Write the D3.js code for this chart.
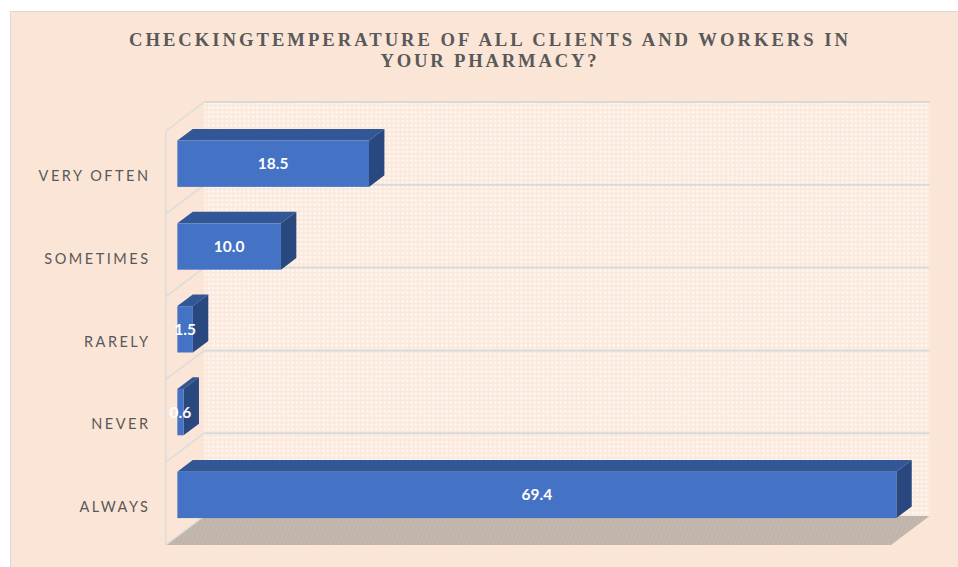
<!DOCTYPE html>
<html>
<head>
<meta charset="utf-8">
<script src="https://cdn.jsdelivr.net/npm/d3@7"></script>
<style>
  body { margin: 0; background: #ffffff; }
  svg { display: block; }
</style>
</head>
<body>
<svg></svg>
<script>
let categories = ["VERY OFTEN", "SOMETIMES", "RARELY", "NEVER", "ALWAYS"]
let values = [18.5, 10.0, 1.5, 0.6, 69.4]
let titleLines = ["CHECKINGTEMPERATURE OF ALL CLIENTS AND WORKERS IN", "YOUR PHARMACY?"]

var svg = d3.select("svg")
    .attr("width", 958)
    .attr("height", 567)

// 3d depth: back wall -> front edge of floor
var depth = {dx: -38.5, dy: 29}
var barFront = 0.70, barBack = 0.30

var wall = {left: 204.3, right: 929.5, top: 102, bottom: 516}

var defs = svg.append("defs")

var wallPat = defs.append("pattern")
    .attr("id", "wallPat")
    .attr("width", 4.4).attr("height", 4.4)
    .attr("patternUnits", "userSpaceOnUse")
wallPat.append("rect").attr("width", 4.4).attr("height", 4.4).attr("fill", "#fbe7da")
wallPat.append("circle").attr("cx", 2.2).attr("cy", 2.2).attr("r", 1.6).attr("fill", "#fff6f0")
wallPat.append("circle").attr("cx", 0).attr("cy", 0).attr("r", 0.8).attr("fill", "#fff1e9")
wallPat.append("circle").attr("cx", 4.4).attr("cy", 4.4).attr("r", 0.8).attr("fill", "#fff1e9")

var floorPat = defs.append("pattern")
    .attr("id", "floorPat")
    .attr("width", 4).attr("height", 4)
    .attr("patternUnits", "userSpaceOnUse")
    .attr("patternTransform", "rotate(20)")
floorPat.append("rect").attr("width", 4).attr("height", 4).attr("fill", "#c0b4ab")
floorPat.append("line").attr("x1", 0).attr("y1", 0).attr("x2", 0).attr("y2", 4)
    .attr("stroke", "#cbc0b8").attr("stroke-width", 1)

// chart area
svg.append("rect")
    .attr("x", 10.5).attr("y", 11.5)
    .attr("width", 980).attr("height", 600)
    .attr("fill", "#fbe5d6")
    .attr("stroke", "#d9d9d9")

let scX = d3.scaleLinear()
    .domain([0, 70])
    .range([wall.left, wall.right])

let scY = d3.scaleBand()
    .domain(categories)
    .range([wall.top, wall.bottom])

let scBar = d3.scaleBand()
    .domain(categories)
    .range([wall.top, wall.bottom])
    .paddingInner(0.44)
    .paddingOuter(0.22)

// project a back-plane point forward by depth fraction f
let px = (x, f) => x + depth.dx * f
let py = (y, f) => y + depth.dy * f
let poly = pts => "M" + pts.map(p => p.join(",")).join("L") + "Z"

var plot = svg.append("g")

// back wall
plot.append("rect")
    .attr("x", wall.left).attr("y", wall.top)
    .attr("width", wall.right - wall.left)
    .attr("height", wall.bottom - wall.top)
    .attr("fill", "url(#wallPat)")

// floor
plot.append("path")
    .attr("d", poly([
        [wall.left, wall.bottom], [wall.right, wall.bottom],
        [px(wall.right, 1), py(wall.bottom, 1)], [px(wall.left, 1), py(wall.bottom, 1)]
    ]))
    .attr("fill", "url(#floorPat)")

// gridlines on back wall + side wall
let gridY = categories.map(c => scY(c)).concat([wall.bottom])
plot.selectAll(".grid")
    .data(gridY.slice(0, -1)).enter().append("line")
    .attr("class", "grid")
    .attr("x1", wall.left).attr("x2", wall.right)
    .attr("y1", d => d).attr("y2", d => d)
    .attr("stroke", "#d9d9d9").attr("stroke-width", 2)

plot.selectAll(".side")
    .data(gridY).enter().append("line")
    .attr("class", "side")
    .attr("x1", wall.left).attr("y1", d => d)
    .attr("x2", px(wall.left, 1)).attr("y2", d => py(d, 1))
    .attr("stroke", "#dcdcdc").attr("stroke-width", 1.5)

plot.append("line")
    .attr("x1", px(wall.left, 1)).attr("x2", px(wall.left, 1))
    .attr("y1", py(wall.top, 1)).attr("y2", py(wall.bottom, 1))
    .attr("stroke", "#dcdcdc").attr("stroke-width", 1.5)

// bars
let bars = plot.selectAll(".bar")
    .data(values).enter().append("g")
    .attr("class", "bar")

bars.append("path") // top
    .attr("d", (d, i) => {
        let y = scBar(categories[i])
        return poly([
            [px(scX(0), barBack), py(y, barBack)], [px(scX(d), barBack), py(y, barBack)],
            [px(scX(d), barFront), py(y, barFront)], [px(scX(0), barFront), py(y, barFront)]
        ])
    })
    .attr("fill", "#325796")

bars.append("path") // right side
    .attr("d", (d, i) => {
        let y0 = scBar(categories[i]), y1 = y0 + scBar.bandwidth()
        return poly([
            [px(scX(d), barBack), py(y0, barBack)], [px(scX(d), barBack), py(y1, barBack)],
            [px(scX(d), barFront), py(y1, barFront)], [px(scX(d), barFront), py(y0, barFront)]
        ])
    })
    .attr("fill", "#29487f")

bars.append("rect") // front
    .attr("x", px(scX(0), barFront))
    .attr("y", (d, i) => py(scBar(categories[i]), barFront))
    .attr("width", d => scX(d) - scX(0))
    .attr("height", scBar.bandwidth())
    .attr("fill", "#4472c4")

bars.append("text")
    .attr("x", d => px(scX(0), barFront) + (scX(d) - scX(0)) / 2)
    .attr("y", (d, i) => py(scBar(categories[i]) + scBar.bandwidth() / 2, barFront))
    .attr("dy", "0.36em")
    .attr("text-anchor", "middle")
    .attr("fill", "#ffffff")
    .attr("font-family", "Lato, sans-serif")
    .attr("font-weight", "bold")
    .attr("font-size", 15.5)
    .text(d => d.toFixed(1))

// category labels
svg.append("g").selectAll("text")
    .data(categories).enter().append("text")
    .attr("x", 150.5)
    .attr("y", d => py(scY(d) + scY.bandwidth() / 2, 1) + 3.5)
    .attr("dy", "0.35em")
    .attr("text-anchor", "end")
    .attr("fill", "#595959")
    .attr("font-family", "Lato, sans-serif")
    .attr("font-size", 14.5)
    .attr("letter-spacing", "2.5px")
    .text(d => d)

// title
let titleWidths = [719, 216]
svg.append("g").selectAll("text")
    .data(titleLines).enter().append("text")
    .attr("x", 488.5)
    .attr("y", (d, i) => 46 + i * 21)
    .attr("text-anchor", "middle")
    .attr("fill", "#595959")
    .attr("font-family", "'Liberation Serif', serif")
    .attr("font-weight", "bold")
    .attr("font-size", 18.67)
    .attr("textLength", (d, i) => titleWidths[i])
    .attr("lengthAdjust", "spacing")
    .text(d => d)
</script>
</body>
</html>
